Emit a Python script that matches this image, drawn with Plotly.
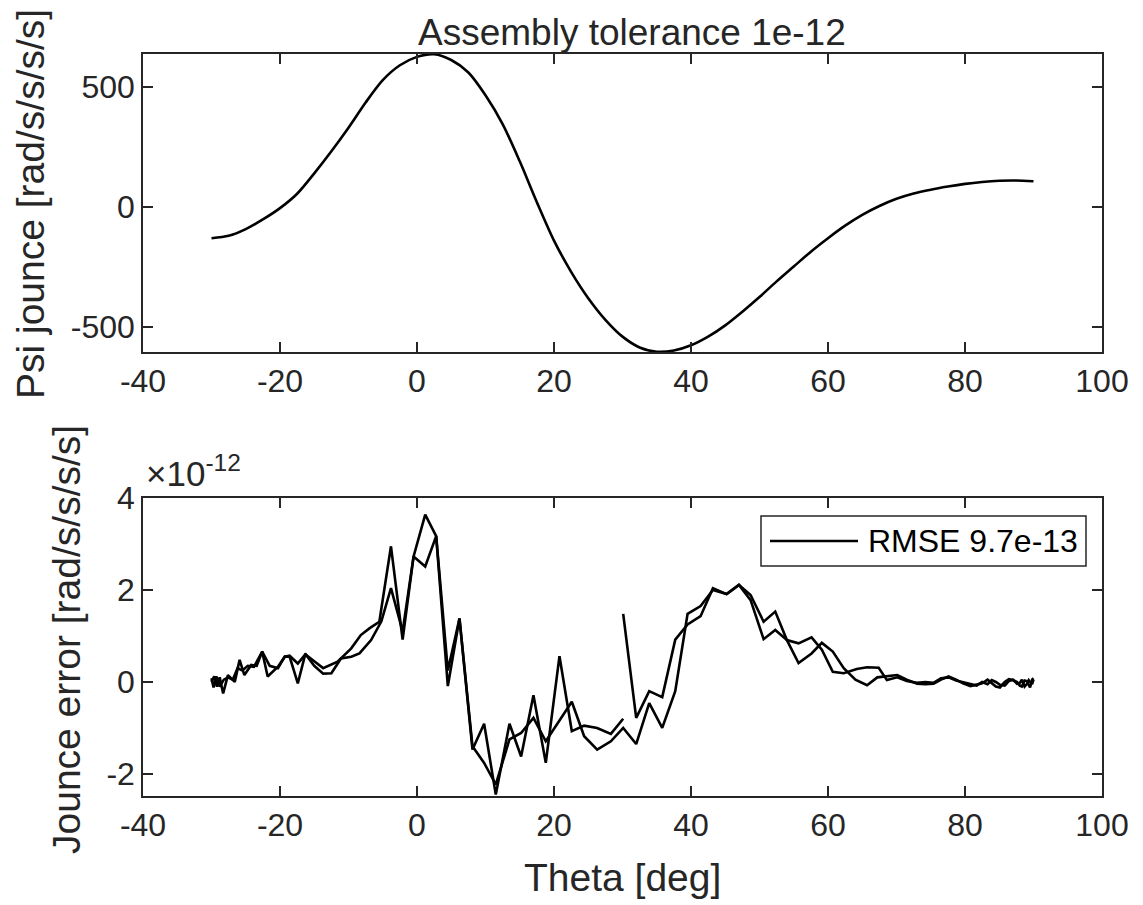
import plotly.graph_objects as go

# ---------------- data ----------------
# top panel: Psi jounce [rad/s/s/s/s] vs Theta [deg]
THETA_TOP = [-30, -27.5, -25, -22.5, -20, -17.5, -15, -12.5, -10, -7.5, -5, -2.5, 0, 2.5,
             5, 7.5, 10, 12.5, 15, 17.5, 20, 22.5, 25, 27.5, 30, 32.5, 35, 37.5, 40, 42.5,
             45, 47.5, 50, 52.5, 55, 57.5, 60, 62.5, 65, 67.5, 70, 72.5, 75, 77.5, 80,
             82.5, 85, 87.5, 90]
PSI_JOUNCE = [-130, -120, -92, -52, -5, 55, 140, 232, 330, 435, 528, 590, 625, 636,
              612, 560, 465, 345, 190, 20, -140, -270, -380, -470, -540, -585, -603, -598, -576, -540,
              -493, -436, -375, -310, -248, -186, -130, -78, -33, 4, 34, 56, 72, 85, 96,
              104, 109, 110, 107]

# bottom panel: Jounce error, in units of 1e-12 rad/s/s/s/s
THETA_A = [-30, -29.6, -29.2, -28.8, -28.3, -27.6, -26.6, -25.9, -25.2, -24.2, -23.4,
           -22.6, -21.8, -20.3, -19.3, -18.6, -17.4, -16.3, -15.0, -13.7, -12.5, -11.1,
           -9.6, -8.4, -6.7, -5.2, -3.8, -2.1, -0.5, 1.2, 2.8, 4.5, 6.2, 8.1, 9.8, 11.5,
           13.5, 15.2, 17.0, 18.8, 20.8, 22.6, 24.4, 26.3, 28.3, 30.1, 32.0, 33.9, 35.8,
           37.7, 39.5, 41.4, 43.2, 45.2, 47.0, 48.7, 50.6, 52.3, 54.0, 55.7, 57.6, 59.1,
           60.7, 62.3, 64.0, 65.7, 67.2, 68.6, 70.1, 71.5, 73.0, 74.2, 75.4, 76.5, 77.6,
           78.7, 79.7, 80.8, 81.7, 82.5, 83.3, 83.9, 84.5, 85.1, 85.8, 86.4, 87.0, 87.6,
           88.0, 88.3, 88.7, 89.0, 89.3, 89.5, 89.8, 90.0]
ERR_A = [0.0, 0.12, -0.1, 0.1, -0.25, 0.15, 0.0, 0.48, 0.15, 0.37, 0.35,
         0.66, 0.12, 0.33, 0.55, 0.55, -0.03, 0.61, 0.35, 0.18, 0.19, 0.51,
         0.55, 0.62, 0.91, 1.32, 2.04, 1.1, 2.73, 2.51, 3.17, 0.25, 1.38, -1.4, -1.76, -2.23,
         -1.25, -1.11, -0.78, -1.29, -0.84, -0.43, -1.18, -1.47, -1.29, -1.0, -1.35, -0.46, -1.0,
         -0.2, 1.48, 1.65, 2.0, 1.91, 2.11, 1.78, 0.93, 1.13, 0.91, 0.41, 0.62, 0.85,
         0.66, 0.3, 0.05, -0.07, 0.1, 0.12, 0.15, 0.05, -0.04, -0.05, -0.04, 0.05, 0.12,
         0.05, -0.03, -0.09, -0.05, -0.03, 0.05, -0.02, -0.1, -0.12, 0.0, 0.06, 0.04, 0.0,
         -0.08, -0.1, 0.03, 0.02, -0.08, -0.12, 0.05, 0.08]

THETA_B = [-30, -29.7, -29.3, -28.8, -28.2, -27.6, -26.9, -26.2, -25.5, -24.7, -23.8,
           -22.6, -21.5, -20.3, -19.3, -18.6, -17.4, -16.3, -15.0, -13.7, -11.6, -9.6,
           -8.2, -6.9, -5.5, -3.8, -2.1, -0.5, 1.2, 2.8, 4.5, 6.2, 8.1, 9.8, 11.5, 13.5,
           15.2, 17.0, 18.8, 20.8, 22.6, 24.4, 26.3, 28.3, 30.1]
ERR_B = [0.08, -0.12, 0.12, -0.1, 0.05, 0.1, 0.05, 0.3, 0.25, 0.35, 0.33,
         0.66, 0.35, 0.3, 0.55, 0.57, 0.4, 0.6, 0.45, 0.3, 0.44, 0.73,
         1.02, 1.17, 1.31, 2.95, 0.92, 2.73, 3.64, 3.17, -0.09, 1.38, -1.47, -0.91, -2.45, -0.91,
         -1.62, -0.29, -1.76, 0.56, -1.07, -0.95, -1.0, -1.13, -0.8]

THETA_C = [30.1, 32.0, 33.9, 35.8, 37.7, 39.5, 41.4, 43.2, 45.2, 47.0, 48.7, 50.6,
           52.3, 54.0, 55.7, 57.6, 59.1, 60.7, 62.3, 64.2, 65.7, 67.4, 68.6, 70.1, 71.5,
           73.0, 74.2, 75.4, 76.5, 77.6, 78.7, 79.7, 80.8, 81.7, 82.5, 83.3, 83.9, 84.5,
           85.1, 85.8, 86.4, 87.0, 87.6, 88.0, 88.3, 88.7, 89.0, 89.3, 89.5, 89.8, 90.0]
ERR_C = [1.48, -0.78, -0.2, -0.33, 0.92, 1.25, 1.43, 2.04, 1.91, 2.11, 1.89, 1.31,
         1.53, 0.91, 0.84, 0.97, 0.7, 0.22, 0.19, 0.28, 0.32, 0.31, 0.04, 0.1, 0.02,
         -0.02, 0.0, -0.02, 0.08, 0.1, 0.03, -0.01, -0.05, -0.08, 0.0, -0.05, 0.04, 0.0,
         -0.06, -0.08, 0.02, 0.05, -0.04, -0.02, 0.05, -0.1, -0.05, 0.04, 0.0, -0.05, 0.05]

X_TICKS = [-40, -20, 0, 20, 40, 60, 80, 100]
TOP_Y_TICKS = [-500, 0, 500]
BOT_Y_TICKS = [-2, 0, 2, 4]
TITLE = "Assembly tolerance 1e-12"
LEGEND_LABEL = "RMSE 9.7e-13"

# ---------------- figure ----------------
OFF = 8  # page body margin in the browser
W, H = 1143 - OFF, 905 - OFF
ML, MR, MT, MB = 143 - OFF, 41, 54 - OFF, 109
FONT = "Liberation Sans, Arial, Helvetica, sans-serif"
AX = "#262626"
LW = 2.6
TICK_SIZE = 32
LABEL_SIZE = 39
TITLE_SIZE = 37

fig = go.Figure()
fig.add_trace(go.Scatter(x=THETA_TOP, y=PSI_JOUNCE, mode="lines",
                         line=dict(color="black", width=LW, shape="spline", smoothing=0.8),
                         xaxis="x", yaxis="y", showlegend=False))
fig.add_trace(go.Scatter(x=THETA_A, y=ERR_A, mode="lines", line=dict(color="black", width=LW),
                         xaxis="x2", yaxis="y2", name=LEGEND_LABEL, showlegend=False))
fig.add_trace(go.Scatter(x=THETA_B + [None] + THETA_C, y=ERR_B + [None] + ERR_C, mode="lines",
                         line=dict(color="black", width=LW), connectgaps=False,
                         xaxis="x2", yaxis="y2", showlegend=False))

ph = H - MT - MB
top_bottom = (796 - 352) / ph
bot_top = (796 - 498) / ph


def labels(vals):
    return [str(v) for v in vals]  # plain hyphen-minus like the reference


axis_common = dict(showline=True, linecolor=AX, linewidth=1.5, mirror="ticks", ticks="inside",
                   ticklen=10, tickwidth=1.5, tickcolor=AX, showgrid=False, zeroline=False,
                   tickfont=dict(family=FONT, size=TICK_SIZE, color=AX))

fig.update_layout(
    width=W, height=H,
    margin=dict(l=ML, r=MR, t=MT, b=MB),
    paper_bgcolor="white", plot_bgcolor="white",
    showlegend=False,
    xaxis=dict(domain=[0, 1], range=[-40, 100], tickvals=X_TICKS, ticktext=labels(X_TICKS), anchor="y", **axis_common),
    yaxis=dict(domain=[top_bottom, 1], range=[-604, 637], tickvals=TOP_Y_TICKS, ticktext=labels(TOP_Y_TICKS),
               anchor="x", **axis_common),
    xaxis2=dict(domain=[0, 1], range=[-40, 100], tickvals=X_TICKS, ticktext=labels(X_TICKS), anchor="y2", **axis_common),
    yaxis2=dict(domain=[0, bot_top], range=[-2.48, 4], tickvals=BOT_Y_TICKS, ticktext=labels(BOT_Y_TICKS),
                anchor="x2", **axis_common),
)


def px_to_paper_x(px):
    return (px - OFF - ML) / (W - ML - MR)


def py_to_paper_y(py):
    return (H - MB - (py - OFF)) / ph


txt = dict(family=FONT, size=LABEL_SIZE, color=AX)
ann = [
    dict(text=TITLE, x=px_to_paper_x(632), y=py_to_paper_y(33), xref="paper", yref="paper",
         showarrow=False, font=dict(family=FONT, size=TITLE_SIZE, color=AX), xanchor="center", yanchor="middle"),
    dict(text="Psi jounce [rad/s/s/s/s]", x=px_to_paper_x(31), y=py_to_paper_y(204), xref="paper", yref="paper",
         showarrow=False, font=txt, textangle=-90, xanchor="center", yanchor="middle"),
    dict(text="Jounce error [rad/s/s/s/s]", x=px_to_paper_x(66), y=py_to_paper_y(640), xref="paper", yref="paper",
         showarrow=False, font=txt, textangle=-90, xanchor="center", yanchor="middle"),
    dict(text="Theta [deg]", x=px_to_paper_x(622), y=py_to_paper_y(877), xref="paper", yref="paper",
         showarrow=False, font=txt, xanchor="center", yanchor="middle"),
    dict(text="×10<sup>-12</sup>", x=px_to_paper_x(144), y=py_to_paper_y(495), xref="paper", yref="paper",
         showarrow=False, font=dict(family=FONT, size=35, color=AX), xanchor="left", yanchor="bottom"),
    dict(text=LEGEND_LABEL, x=px_to_paper_x(866), y=py_to_paper_y(541), xref="paper", yref="paper",
         showarrow=False, font=dict(family=FONT, size=TICK_SIZE, color="black"), xanchor="left", yanchor="middle"),
]
fig.update_layout(annotations=ann)

fig.update_layout(shapes=[
    dict(type="rect", xref="paper", yref="paper", x0=px_to_paper_x(761), x1=px_to_paper_x(1086),
         y0=py_to_paper_y(566), y1=py_to_paper_y(516), line=dict(color=AX, width=1.5), fillcolor="white", layer="above"),
    dict(type="line", xref="paper", yref="paper", x0=px_to_paper_x(770), x1=px_to_paper_x(858),
         y0=py_to_paper_y(541), y1=py_to_paper_y(541), line=dict(color="black", width=LW), layer="above"),
])

fig.write_html("out.html")
